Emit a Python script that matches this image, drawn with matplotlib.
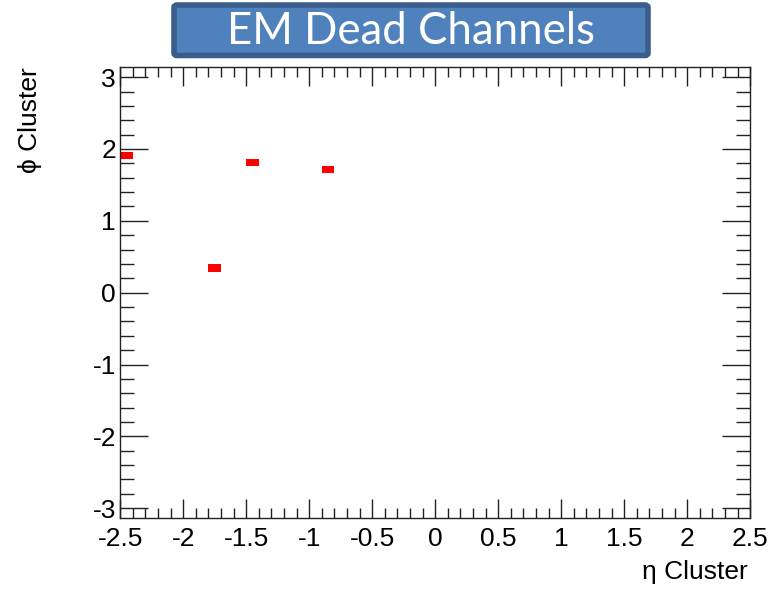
import numpy as np
import matplotlib
matplotlib.use("Agg")
import matplotlib.pyplot as plt
from matplotlib.patches import FancyBboxPatch
from matplotlib.ticker import MultipleLocator, FuncFormatter
from matplotlib.colors import ListedColormap

# dead EM cells (cluster eta, phi)
dead_eta = [-2.45, -1.75, -1.45, -0.85]
dead_phi = [1.914, 0.344, 1.816, 1.718]

title_text = "EM Dead Channels"
xlabel_text = "\u03b7 Cluster"
ylabel_text = "\u03d5 Cluster"

# binning of the 2D map
n_eta, eta_lo, eta_hi = 50, -2.5, 2.5
n_phi, phi_lo, phi_hi = 64, -np.pi, np.pi

plt.rcParams['font.family'] = ['Liberation Sans', 'DejaVu Sans']

fig = plt.figure(figsize=(7.84, 5.97), dpi=100)
ax = fig.add_axes([0.1534, 0.1317, 0.8036, 0.7561])

counts, xe, ye = np.histogram2d(dead_eta, dead_phi, bins=[n_eta, n_phi],
                                range=[[eta_lo, eta_hi], [phi_lo, phi_hi]])
masked = np.ma.masked_equal(counts.T, 0)
ax.pcolormesh(xe, ye, masked, cmap=ListedColormap(["#ff0000"]), shading="flat")

ax.set_xlim(eta_lo, eta_hi)
ax.set_ylim(phi_lo, phi_hi)

ax.xaxis.set_major_locator(MultipleLocator(0.5))
ax.xaxis.set_minor_locator(MultipleLocator(0.1))
ax.yaxis.set_major_locator(MultipleLocator(1))
ax.yaxis.set_minor_locator(MultipleLocator(0.2))
ax.xaxis.set_major_formatter(FuncFormatter(lambda v, p: f"{v:g}"))
ax.yaxis.set_major_formatter(FuncFormatter(lambda v, p: f"{v:g}"))

ax.tick_params(which="both", direction="in", top=True, right=True,
               labelsize=19, color="#222222", width=1.0)
ax.tick_params(axis="x", which="major", length=14, pad=6)
ax.tick_params(axis="x", which="minor", length=7)
ax.tick_params(axis="y", which="major", length=20, pad=3)
ax.tick_params(axis="y", which="minor", length=10)
for sp in ax.spines.values():
    sp.set_linewidth(1.0)
    sp.set_color("#222222")

fig.text(0.954, 0.022, xlabel_text, ha="right", va="bottom", fontsize=19)
fig.text(0.038, 0.887, ylabel_text, ha="center", va="top", rotation=90, fontsize=19)

# title banner
box = FancyBboxPatch((174 / 784, 1 - 55.5 / 597), 474 / 784, 50.5 / 597,
                     boxstyle="round,pad=0,rounding_size=0.004",
                     transform=fig.transFigure, facecolor="#4f81bd",
                     edgecolor="#3b5d8c", linewidth=4)
fig.patches.append(box)
fig.text(411 / 784, 1 - 31 / 597, title_text, ha="center", va="center",
         fontsize=31.5, color="white", family=["Lato", "DejaVu Sans"])

fig.savefig("out.png", dpi=100)
